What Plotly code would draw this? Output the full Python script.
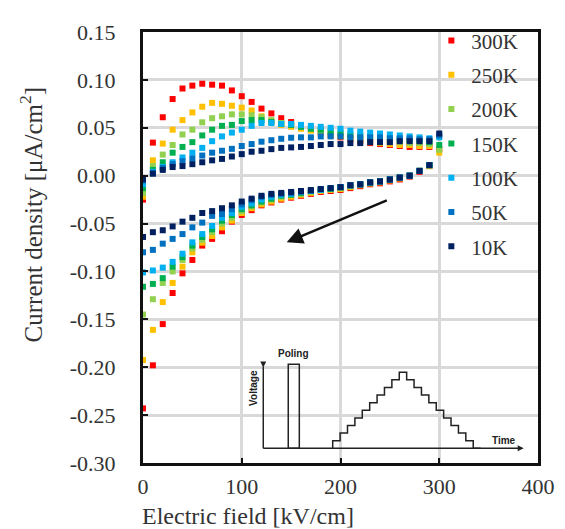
import plotly.graph_objects as go

# ---------------- data ----------------
SERIES = ["300K", "250K", "200K", "150K", "100K", "50K", "10K"]
COLORS = ["#FF0000", "#FFC000", "#92D050", "#00B050", "#00B0F0", "#0070C0", "#002060"]

# field values for the up-sweep (0 -> 300 kV/cm) and the down-sweep (290 -> 0 kV/cm)
E_UP = [0, 10, 20, 30, 40, 50, 60, 70, 80, 90, 100, 110, 120, 130, 140, 150,
        160, 170, 180, 190, 200, 210, 220, 230, 240, 250, 260, 270, 280, 290, 300]
E_DOWN = [290, 280, 270, 260, 250, 240, 230, 220, 210, 200, 190, 180, 170, 160, 150,
          140, 130, 120, 110, 100, 90, 80, 70, 60, 50, 40, 30, 20, 10, 0]

J300_UP = [-0.025, 0.0345, 0.061, 0.080, 0.091, 0.094, 0.096, 0.095, 0.094, 0.089, 0.083, 0.077, 0.070, 0.065, 0.060, 0.056,
           0.052, 0.048, 0.045, 0.042, 0.040, 0.038, 0.036, 0.034, 0.033, 0.032, 0.031, 0.030, 0.030, 0.030, 0.028]
J300_DOWN = [0.010, 0.004, -0.001, -0.004, -0.006, -0.008, -0.009, -0.011, -0.013, -0.015, -0.016, -0.017, -0.019, -0.021, -0.023,
             -0.025, -0.028, -0.031, -0.036, -0.041, -0.048, -0.058, -0.066, -0.073, -0.088, -0.102, -0.1225, -0.155, -0.198, -0.243]

J250_UP = [-0.022, 0.016, 0.0335, 0.048, 0.058, 0.066, 0.072, 0.076, 0.075, 0.073, 0.071, 0.068, 0.062, 0.057, 0.053, 0.051,
           0.049, 0.047, 0.045, 0.043, 0.041, 0.039, 0.037, 0.035, 0.034, 0.033, 0.032, 0.032, 0.031, 0.031, 0.024]
J250_DOWN = [0.010, 0.005, 0.000, -0.003, -0.005, -0.007, -0.008, -0.010, -0.012, -0.014, -0.015, -0.016, -0.018, -0.020, -0.022,
             -0.024, -0.027, -0.030, -0.034, -0.039, -0.047, -0.054, -0.063, -0.070, -0.080, -0.095, -0.112, -0.132, -0.161, -0.1925]

J200_UP = [-0.018, 0.010, 0.022, 0.032, 0.043, 0.048, 0.0557, 0.060, 0.062, 0.064, 0.064, 0.063, 0.061, 0.058, 0.055, 0.053,
           0.051, 0.049, 0.047, 0.045, 0.043, 0.041, 0.039, 0.038, 0.037, 0.036, 0.035, 0.034, 0.034, 0.033, 0.027]
J200_DOWN = [0.011, 0.005, 0.000, -0.002, -0.004, -0.006, -0.008, -0.009, -0.011, -0.013, -0.014, -0.015, -0.017, -0.019, -0.020,
             -0.022, -0.025, -0.028, -0.032, -0.037, -0.044, -0.050, -0.059, -0.067, -0.076, -0.088, -0.100, -0.112, -0.129, -0.145]

J150_UP = [-0.013, 0.006, 0.014, 0.024, 0.030, 0.035, 0.042, 0.048, 0.052, 0.053, 0.057, 0.058, 0.058, 0.056, 0.054, 0.053,
           0.051, 0.049, 0.048, 0.046, 0.045, 0.043, 0.042, 0.041, 0.040, 0.039, 0.038, 0.037, 0.036, 0.035, 0.032]
J150_DOWN = [0.011, 0.005, 0.000, -0.002, -0.004, -0.006, -0.007, -0.009, -0.010, -0.012, -0.014, -0.015, -0.016, -0.018, -0.020,
             -0.021, -0.024, -0.027, -0.031, -0.035, -0.041, -0.047, -0.056, -0.064, -0.073, -0.085, -0.095, -0.107, -0.113, -0.116]

J100_UP = [-0.009, 0.004, 0.009, 0.014, 0.019, 0.024, 0.029, 0.036, 0.041, 0.045, 0.048, 0.052, 0.055, 0.055, 0.054, 0.054,
           0.053, 0.052, 0.051, 0.050, 0.049, 0.047, 0.046, 0.045, 0.044, 0.043, 0.042, 0.041, 0.040, 0.039, 0.040]
J100_DOWN = [0.011, 0.005, 0.000, -0.002, -0.004, -0.006, -0.007, -0.009, -0.010, -0.012, -0.013, -0.015, -0.016, -0.017, -0.019,
             -0.020, -0.022, -0.025, -0.029, -0.0325, -0.039, -0.044, -0.0525, -0.061, -0.0696, -0.0815, -0.090, -0.096, -0.099, -0.101]

J50_UP = [-0.005, 0.003, 0.008, 0.012, 0.015, 0.018, 0.021, 0.024, 0.026, 0.028, 0.031, 0.033, 0.0355, 0.037, 0.0385, 0.0396,
          0.040, 0.040, 0.041, 0.041, 0.041, 0.040, 0.040, 0.040, 0.040, 0.039, 0.039, 0.039, 0.038, 0.038, 0.042]
J50_DOWN = [0.011, 0.005, 0.000, -0.002, -0.004, -0.006, -0.007, -0.009, -0.010, -0.012, -0.013, -0.014, -0.016, -0.017, -0.018,
            -0.019, -0.020, -0.022, -0.0255, -0.030, -0.035, -0.040, -0.042, -0.049, -0.054, -0.061, -0.066, -0.071, -0.0775, -0.080]

J10_UP = [-0.004, 0.002, 0.006, 0.009, 0.010, 0.012, 0.014, 0.016, 0.0175, 0.020, 0.0225, 0.025, 0.026, 0.0277, 0.029, 0.0295,
          0.030, 0.031, 0.032, 0.033, 0.033, 0.034, 0.034, 0.035, 0.035, 0.035, 0.036, 0.036, 0.036, 0.036, 0.044]
J10_DOWN = [0.011, 0.005, 0.000, -0.002, -0.004, -0.006, -0.007, -0.009, -0.010, -0.012, -0.013, -0.014, -0.015, -0.016, -0.017,
            -0.018, -0.019, -0.021, -0.024, -0.027, -0.031, -0.034, -0.037, -0.039, -0.044, -0.048, -0.053, -0.057, -0.059, -0.064]

UP = [J300_UP, J250_UP, J200_UP, J150_UP, J100_UP, J50_UP, J10_UP]
DOWN = [J300_DOWN, J250_DOWN, J200_DOWN, J150_DOWN, J100_DOWN, J50_DOWN, J10_DOWN]

X_TICKS = [0, 100, 200, 300, 400]
X_TICK_TEXT = ["0", "100", "200", "300", "400"]
Y_TICKS = [0.15, 0.10, 0.05, 0.00, -0.05, -0.10, -0.15, -0.20, -0.25, -0.30]
Y_TICK_TEXT = ["0.15", "0.10", "0.05", "0.00", "-0.05", "-0.10", "-0.15", "-0.20", "-0.25", "-0.30"]
X_TITLE = "Electric field [kV/cm]"
Y_TITLE = "Current density [μA/cm<sup>2</sup>]"

SERIF = "Liberation Serif, Times New Roman, serif"
SANS = "Liberation Sans, Arial, sans-serif"

fig = go.Figure()
for name, col, up, down in zip(SERIES, COLORS, UP, DOWN):
    assert len(up) == len(E_UP) and len(down) == len(E_DOWN)
    fig.add_trace(go.Scatter(
        x=E_UP + E_DOWN, y=up + down, mode="markers", name=name,
        legendgroup=name,
        marker=dict(symbol="square", size=6, color=col, line=dict(width=0)),
    ))

# ---------------- inset schematic (voltage vs time) ----------------
base, top = -0.2847, -0.1994
ax_x, ax_end = 121.8, 383.5
line_style = dict(color="#222222", width=1.5)
shapes = [
    dict(type="line", x0=ax_x, x1=ax_x, y0=base, y1=top, line=line_style),
    dict(type="line", x0=ax_x, x1=ax_end, y0=base, y1=base, line=line_style),
    dict(type="rect", x0=147.1, x1=158.3, y0=base, y1=-0.197, line=line_style),
]
n_steps = 10
x0, x_peak, y_peak = 192.1, 267.0, -0.2052
w = (x_peak - x0) / n_steps
h = (y_peak - base) / n_steps
pts = [(x0, base)]
x, y = x0, base
for _ in range(n_steps):
    y += h
    pts.append((x, y))
    x += w
    pts.append((x, y))
for _ in range(n_steps):
    y -= h
    pts.append((x, y))
    x += w
    pts.append((x, y))
path = "M " + " L ".join(f"{px:.3f},{py:.5f}" for px, py in pts)
shapes.append(dict(type="path", path=path, line=line_style, xref="x", yref="y"))

annotations = [
    # axis arrow heads of the inset
    dict(x=ax_x, y=top - 0.001, ax=ax_x, ay=top + 0.004, xref="x", yref="y", axref="x", ayref="y",
         showarrow=True, arrowhead=2, arrowsize=1, arrowwidth=1.2, arrowcolor="#222222", text="", standoff=0),
    dict(x=ax_end + 2, y=base, ax=ax_end - 4, ay=base, xref="x", yref="y", axref="x", ayref="y",
         showarrow=True, arrowhead=2, arrowsize=1, arrowwidth=1.2, arrowcolor="#222222", text=""),
    dict(x=152.5, y=-0.193, xref="x", yref="y", text="<b>Poling</b>", showarrow=False,
         font=dict(family=SANS, size=10, color="#222222"), yanchor="bottom"),
    dict(x=112.0, y=-0.222, xref="x", yref="y", text="<b>Voltage</b>", showarrow=False, textangle=-90,
         font=dict(family=SANS, size=10, color="#222222")),
    dict(x=366.0, y=-0.2765, xref="x", yref="y", text="<b>Time</b>", showarrow=False,
         font=dict(family=SANS, size=10, color="#222222")),
    # sweep-direction arrow
    dict(x=145.5, y=-0.0696, ax=248.4, ay=-0.0252, xref="x", yref="y", axref="x", ayref="y",
         showarrow=True, arrowhead=2, arrowsize=1.3, arrowwidth=2.5, arrowcolor="#111111", text=""),
    # axis titles (placed as in the reference, off-centre)
    dict(x=0.265, y=-0.123, xref="paper", yref="paper", text=X_TITLE, showarrow=False,
         xanchor="center", yanchor="middle", font=dict(family=SERIF, size=24, color="#333333")),
    dict(x=-0.283, y=0.575, xref="paper", yref="paper", text=Y_TITLE, showarrow=False, textangle=-90,
         xanchor="center", yanchor="middle", font=dict(family=SERIF, size=25, color="#333333")),
]

axis_common = dict(
    showline=True, linecolor="#111111", linewidth=3, mirror=True,
    showgrid=True, gridcolor="#D9D9D9", gridwidth=3,
    ticks="inside", ticklen=5, tickwidth=1.5, tickcolor="#111111",
    zeroline=False, automargin=False,
    tickfont=dict(family=SERIF, size=22, color="#333333"),
)

fig.update_layout(
    width=565, height=529,
    margin=dict(l=135, r=35, t=16, b=74),
    paper_bgcolor="white", plot_bgcolor="white",
    xaxis=dict(range=[0, 400], tickvals=X_TICKS, ticktext=X_TICK_TEXT,
               ticklabelstandoff=2, **axis_common),
    yaxis=dict(range=[-0.30, 0.15], tickvals=Y_TICKS, ticktext=Y_TICK_TEXT,
               ticklabelstandoff=20, **axis_common),
    legend=dict(x=0.73, y=1.027, xanchor="left", yanchor="top", bgcolor="rgba(0,0,0,0)",
                traceorder="grouped", tracegroupgap=4,
                font=dict(family=SERIF, size=21, color="#333333"),
                itemwidth=30),
    shapes=shapes,
    annotations=annotations,
    showlegend=True,
)

fig.write_html("out.html")
